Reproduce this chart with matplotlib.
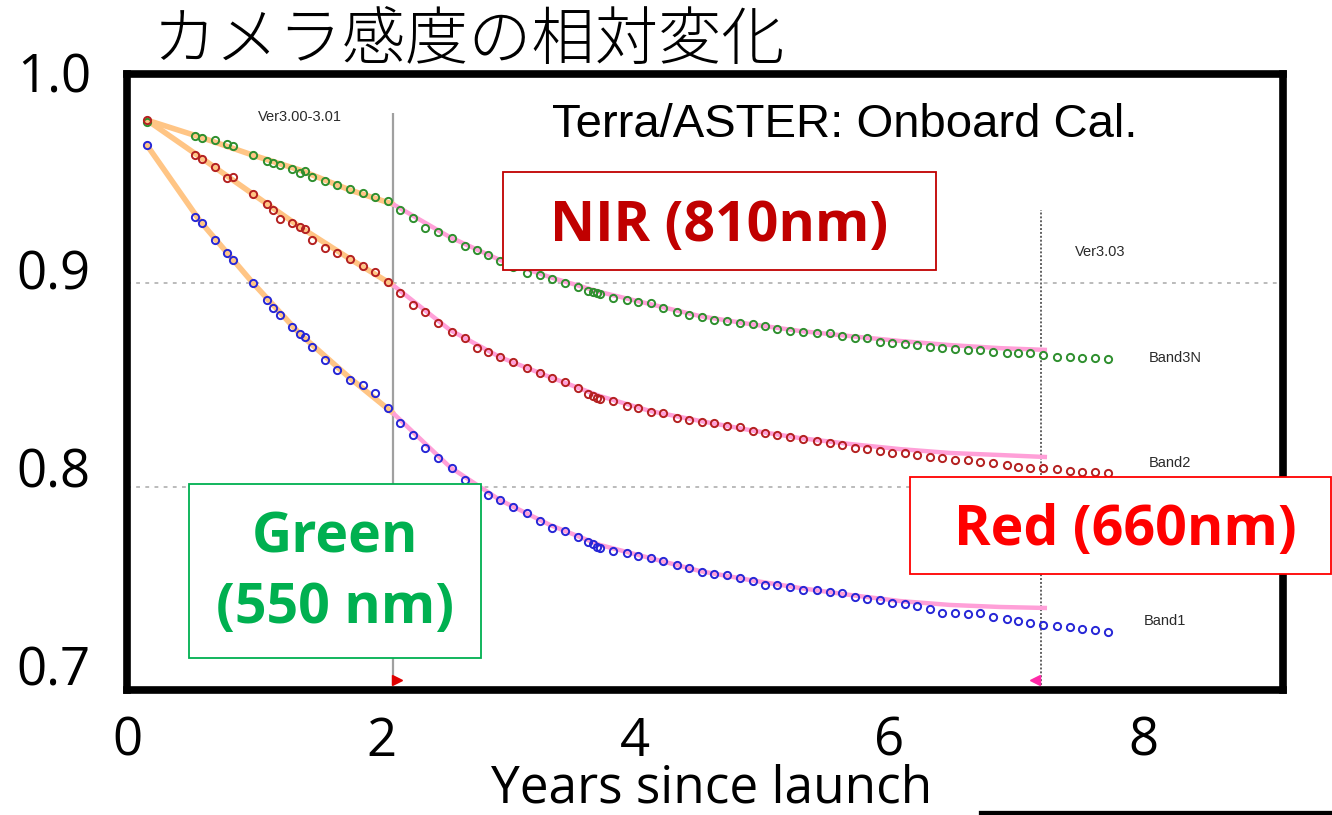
import matplotlib
matplotlib.use("Agg")
import matplotlib.pyplot as plt
from matplotlib.patches import Rectangle
from matplotlib.lines import Line2D

# ---------------- data ----------------
years = [0.157, 0.535, 0.591, 0.693, 0.787, 0.835, 0.992, 1.102, 1.150, 1.205,
         1.299, 1.362, 1.402, 1.457, 1.559, 1.654, 1.756, 1.858, 1.953, 2.055,
         2.150, 2.252, 2.346, 2.449, 2.559, 2.661, 2.756, 2.843, 2.937, 3.039,
         3.150, 3.252, 3.346, 3.449, 3.551, 3.630, 3.669, 3.701, 3.724, 3.827,
         3.937, 4.024, 4.126, 4.220, 4.331, 4.425, 4.528, 4.622, 4.724, 4.827,
         4.929, 5.024, 5.118, 5.220, 5.323, 5.433, 5.535, 5.630, 5.732, 5.827,
         5.929, 6.024, 6.126, 6.220, 6.323, 6.417, 6.520, 6.622, 6.717, 6.819,
         6.929, 7.016, 7.110, 7.213, 7.323, 7.425, 7.520, 7.622, 7.724]

band3n = [0.979, 0.972, 0.971, 0.970, 0.968, 0.967, 0.963, 0.960, 0.959, 0.958,
          0.956, 0.954, 0.955, 0.952, 0.950, 0.948, 0.946, 0.944, 0.942, 0.940,
          0.936, 0.932, 0.927, 0.925, 0.922, 0.918, 0.916, 0.914, 0.911, 0.908,
          0.905, 0.904, 0.902, 0.900, 0.898, 0.896, 0.8956, 0.8951, 0.8946, 0.8926,
          0.8917, 0.8907, 0.8902, 0.8877, 0.8858, 0.8843, 0.8833, 0.8819, 0.8814, 0.8804,
          0.8799, 0.8789, 0.8775, 0.8765, 0.8760, 0.8755, 0.8755, 0.8740, 0.8730, 0.8730,
          0.8711, 0.8706, 0.8701, 0.8696, 0.8686, 0.8681, 0.8676, 0.8672, 0.8672, 0.8662,
          0.8657, 0.8657, 0.8657, 0.8647, 0.8637, 0.8637, 0.8632, 0.8632, 0.8627]

band2 = [0.9799, 0.9627, 0.9608, 0.9569, 0.9515, 0.9520, 0.9436, 0.9387, 0.9358, 0.9314,
         0.9294, 0.9275, 0.9265, 0.9211, 0.9172, 0.9147, 0.9118, 0.9083, 0.9054, 0.9005,
         0.8951, 0.8892, 0.8858, 0.8804, 0.8760, 0.8730, 0.8681, 0.8662, 0.8637, 0.8613,
         0.8583, 0.8559, 0.8534, 0.8515, 0.8485, 0.8456, 0.8446, 0.8436, 0.8431, 0.8422,
         0.8397, 0.8387, 0.8368, 0.8363, 0.8338, 0.8328, 0.8319, 0.8314, 0.8299, 0.8294,
         0.8275, 0.8265, 0.8255, 0.8245, 0.8235, 0.8225, 0.8216, 0.8206, 0.8191, 0.8186,
         0.8176, 0.8167, 0.8167, 0.8157, 0.8147, 0.8142, 0.8132, 0.8132, 0.8123, 0.8118,
         0.8108, 0.8098, 0.8093, 0.8093, 0.8088, 0.8078, 0.8074, 0.8074, 0.8069]

band1 = [0.9676, 0.9324, 0.9294, 0.9211, 0.9147, 0.9113, 0.9000, 0.8917, 0.8877, 0.8843,
         0.8784, 0.8750, 0.8735, 0.8686, 0.8623, 0.8574, 0.8525, 0.8500, 0.8461, 0.8387,
         0.8314, 0.8255, 0.8191, 0.8142, 0.8093, 0.8034, 0.7995, 0.7961, 0.7936, 0.7902,
         0.7873, 0.7833, 0.7799, 0.7784, 0.7755, 0.7730, 0.7721, 0.7706, 0.7701, 0.7686,
         0.7676, 0.7662, 0.7652, 0.7637, 0.7618, 0.7603, 0.7583, 0.7574, 0.7569, 0.7554,
         0.7539, 0.7520, 0.7520, 0.7510, 0.7495, 0.7495, 0.7485, 0.7480, 0.7461, 0.7451,
         0.7446, 0.7431, 0.7426, 0.7417, 0.7402, 0.7382, 0.7382, 0.7377, 0.7382, 0.7363,
         0.7353, 0.7343, 0.7333, 0.7324, 0.7319, 0.7314, 0.7304, 0.7299, 0.7289]

# fitted trend lines (Ver3.00-3.01 part and later part)
fit_years_early = [0.157, 0.575, 0.992, 1.362, 1.756, 2.094]
fit_years_late = [2.094, 2.543, 2.937, 3.331, 3.724, 4.118, 4.512, 4.906,
                  5.299, 5.693, 6.087, 6.480, 6.874, 7.244]
fit3n_early = [0.9799, 0.9716, 0.9627, 0.9554, 0.9456, 0.9387]
fit3n_late = [0.9387, 0.9225, 0.9113, 0.9029, 0.8956, 0.8897, 0.8838, 0.8799,
              0.8765, 0.8740, 0.8716, 0.8696, 0.8681, 0.8672]
fit2_early = [0.9799, 0.9618, 0.9436, 0.9275, 0.9118, 0.8990]
fit2_late = [0.8990, 0.8770, 0.8637, 0.8539, 0.8446, 0.8373, 0.8324, 0.8279,
             0.8240, 0.8211, 0.8186, 0.8167, 0.8157, 0.8147]
fit1_early = [0.9676, 0.9304, 0.9000, 0.8750, 0.8534, 0.8363]
fit1_late = [0.8363, 0.8098, 0.7936, 0.7814, 0.7716, 0.7652, 0.7588, 0.7544,
             0.7505, 0.7471, 0.7441, 0.7422, 0.7412, 0.7407]

version_years = [2.094, 7.197]
version_tops = [0.9833, 0.9358]
version_labels = ["Ver3.00-3.01", "Ver3.03"]
band_labels = ["Band3N", "Band2", "Band1"]
x_ticks = [0, 2, 4, 6, 8]
x_ticklabels = ["0", "2", "4", "6", "8"]
y_ticks = [0.7, 0.8, 0.9, 1.0]
y_ticklabels = ["0.7", "0.8", "0.9", "1.0"]

# ---------------- figure ----------------
W, H = 1332, 815
fig = plt.figure(figsize=(W / 100, H / 100), dpi=100)
fig.patch.set_facecolor("white")


def fx(px):
    return px / W


def fy(py):
    return 1 - py / H


LAT = ["Open Sans", "DejaVu Sans"]

# tick-label axis (the slide's labels sit on their own scale)
lab = fig.add_axes([fx(127), fy(665), fx(1143) - fx(127), fy(72) - fy(665)])
lab.set_ylim(0.7, 1.0)
lab.set_xlim(0, 8)
lab.patch.set_visible(False)
for s in lab.spines.values():
    s.set_visible(False)
lab.set_xticks([])
lab.set_yticks(y_ticks)
lab.set_yticklabels(y_ticklabels, family=LAT, fontsize=38)
lab.tick_params(axis="y", length=0, pad=26)

# main axes
ax = fig.add_axes([fx(127), fy(690), fx(1283) - fx(127), fy(74) - fy(690)])
ax.set_xlim(0, 9.102)
ax.set_ylim(0.7005, 1.0025)
ax.patch.set_visible(False)
for s in ax.spines.values():
    s.set_linewidth(5.5)
    s.set_color("black")
ax.set_yticks([])
ax.set_xticks(x_ticks)
ax.set_xticklabels(x_ticklabels, family=LAT, fontsize=38)
ax.tick_params(axis="x", length=0, pad=18)

# grid lines of the inner plot
for g in (0.9, 0.8):
    ax.axhline(g, color="#a8a8a8", lw=1.1, ls=(0, (2.5, 3.5)), zorder=1)

# version lines
ax.vlines(version_years[0], 0.703, version_tops[0], color="#a0a0a0", lw=1.6, zorder=2)
ax.vlines(version_years[1], 0.703, version_tops[1], color="#606060", lw=1.4,
          ls=(0, (1, 1)), zorder=2)
ax.plot([version_years[0] + 0.03], [0.7056], marker=">", color="#e00000", ms=7,
        ls="none", zorder=3, clip_on=False)
ax.plot([version_years[1] - 0.045], [0.7056], marker="<", color="#ff2aa8", ms=7,
        ls="none", zorder=3, clip_on=False)

small = dict(family=["Liberation Sans", "DejaVu Sans"], fontsize=10.5, color="#2a2a2a")
ax.text(1.362, 0.9814, version_labels[0], ha="center", va="center", **small)
ax.text(7.661, 0.9152, version_labels[1], ha="center", va="center", **small)

# fit lines
orange = "#ffc585"
pink = "#ffa0d8"
for fe, fl in ((fit3n_early, fit3n_late), (fit2_early, fit2_late), (fit1_early, fit1_late)):
    ax.plot(fit_years_early, fe, color=orange, lw=4.0, solid_capstyle="round", zorder=3)
    ax.plot(fit_years_late, fl, color=pink, lw=3.2, solid_capstyle="butt", zorder=3)

# data points
for vals, col in ((band3n, "#2e8f2e"), (band2, "#b42020"), (band1, "#2626d6")):
    ax.plot(years, vals, ls="none", marker="o", ms=5.2, mfc="none", mec=col,
            mew=1.4, zorder=4)

ax.text(8.252, 0.8632, band_labels[0], ha="center", va="center", **small)
ax.text(8.213, 0.8118, band_labels[1], ha="center", va="center", **small)
ax.text(8.173, 0.7343, band_labels[2], ha="center", va="center", **small)

# header texts
fig.text(fx(845), fy(125), "Terra/ASTER: Onboard Cal.", ha="center", va="center",
         family=["Liberation Sans", "DejaVu Sans"], fontsize=34, zorder=6)
fig.text(fx(468), fy(42), "カメラ感度の相対変化", ha="center", va="center",
         family=["Noto Sans CJK JP", "DejaVu Sans"], fontsize=45.5, fontweight="light")
fig.text(fx(712), fy(789), "Years since launch", ha="center", va="center",
         family=LAT, fontsize=37)


# annotation boxes
def box(x0, y0, x1, y1, color):
    fig.add_artist(Rectangle((fx(x0), fy(y1)), fx(x1) - fx(x0), fy(y0) - fy(y1),
                             transform=fig.transFigure, facecolor="white",
                             edgecolor=color, lw=1.3, zorder=5))


box(503, 172, 936, 270, "#C00000")
fig.text(fx(719), fy(226), "NIR (810nm)", ha="center", va="center", color="#C00000",
         family=LAT, fontweight="bold", fontsize=40, zorder=6)

box(189, 484, 481, 658, "#00B050")
fig.text(fx(335), fy(538), "Green", ha="center", va="center", color="#00B050",
         family=LAT, fontweight="bold", fontsize=40, zorder=6)
fig.text(fx(335), fy(609), "(550 nm)", ha="center", va="center", color="#00B050",
         family=LAT, fontweight="bold", fontsize=40, zorder=6)

box(910, 477, 1331, 574, "#FF0000")
fig.text(fx(1125), fy(531), "Red (660nm)", ha="center", va="center", color="#FF0000",
         family=LAT, fontweight="bold", fontsize=40, zorder=6)

# short rule at bottom right
fig.add_artist(Line2D([fx(981), 1.0], [fy(812.5), fy(812.5)], transform=fig.transFigure,
                      color="black", lw=3.8, zorder=5))

fig.savefig("out.png", dpi=100)
